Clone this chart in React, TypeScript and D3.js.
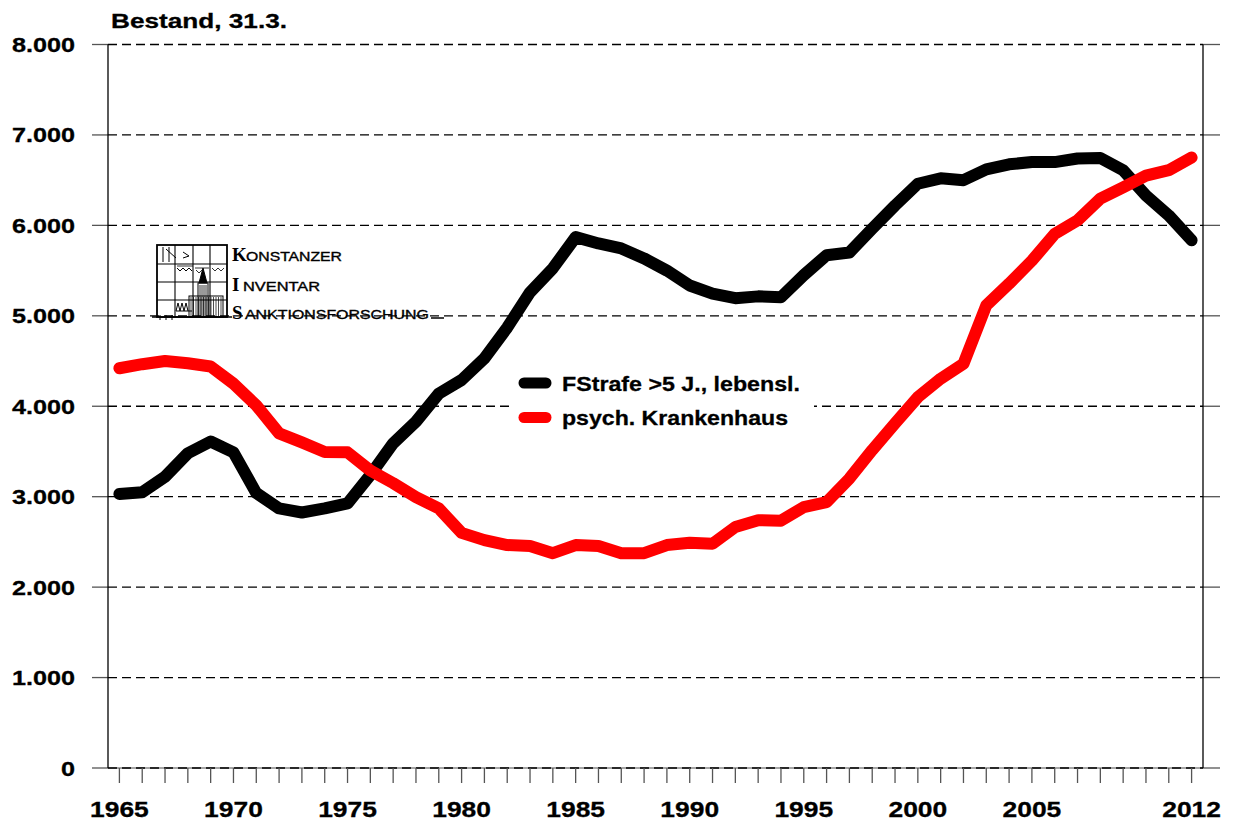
import React from "react";
import * as d3 from "d3";

const years: number[] = d3.range(1965, 2013);
const fstrafe: number[] = [
  3030, 3050, 3220, 3480, 3610, 3490, 3040, 2870, 2825, 2870,
  2925, 3240, 3590, 3830, 4140, 4290, 4530, 4870, 5260, 5525,
  5870, 5800, 5745, 5635, 5500, 5335, 5245, 5195, 5215, 5205,
  5450, 5670, 5700, 5965, 6220, 6460, 6520, 6500, 6620, 6675,
  6700, 6700, 6740, 6745, 6610, 6330, 6110, 5835,
];
const psych: number[] = [
  4420, 4465, 4500, 4475, 4440, 4250, 4010, 3700, 3600, 3495,
  3490, 3290, 3150, 2995, 2870, 2600, 2520, 2465, 2455, 2375,
  2465, 2455, 2375, 2375, 2465, 2490, 2480, 2665, 2740, 2735,
  2885, 2940, 3200, 3515, 3810, 4100, 4305, 4470, 5115, 5355,
  5610, 5905, 6055, 6295, 6420, 6550, 6610, 6750,
];
const yTicks: number[] = [0, 1000, 2000, 3000, 4000, 5000, 6000, 7000, 8000];
const yTickLabels: string[] = ["0", "1.000", "2.000", "3.000", "4.000", "5.000", "6.000", "7.000", "8.000"];
const xLabelYears: number[] = [1965, 1970, 1975, 1980, 1985, 1990, 1995, 2000, 2005, 2012];
const seriesNames: string[] = ["FStrafe >5 J., lebensl.", "psych. Krankenhaus"];
const seriesColors: string[] = ["#000000", "#ff0000"];
const title = "Bestand, 31.3.";

const W = 1235;
const H = 823;
const left = 108;
const right = 1203;
const top = 44.5;
const bottom = 768;

export default function App() {
  const x = d3.scaleLinear().domain([1964.5, 2012.5]).range([left, right]);
  const y = d3.scaleLinear().domain([0, 8000]).range([bottom, top]);
  const line = d3
    .line<number>()
    .x((_, i) => x(years[i]))
    .y((d) => y(d));
  const series = [fstrafe, psych];
  const font = "'Liberation Sans', Arial, sans-serif";

  return (
    <svg
      width={W}
      height={H}
      style={{ position: "absolute", left: 0, top: 0, background: "#fff" }}
      fontFamily={font}
    >
      <rect x={0} y={0} width={W} height={H} fill="#fff" />
      {/* title */}
      <text x={111} y={28} fontSize={21} fontWeight="bold" textLength={176} lengthAdjust="spacingAndGlyphs" stroke="#000" strokeWidth={0.3}>
        {title}
      </text>

      {/* gridlines */}
      {yTicks.map((t) => (
        <g key={t}>
          <line x1={left} x2={right} y1={y(t)} y2={y(t)} stroke={t === 0 ? "#888" : "#000"} strokeWidth={1.3} strokeDasharray={t === 0 ? undefined : "9,5"} />
          {t === 0 && (
            <line x1={left} x2={right} y1={y(t)} y2={y(t)} stroke="#000" strokeWidth={1.3} strokeDasharray="9,5" />
          )}
          <line x1={92} x2={left} y1={y(t)} y2={y(t)} stroke="#555" strokeWidth={1.3} />
          <line x1={right} x2={1220} y1={y(t)} y2={y(t)} stroke="#555" strokeWidth={1.3} />
        </g>
      ))}
      {/* axes */}
      <line x1={left} x2={left} y1={top} y2={bottom} stroke="#000" strokeWidth={1.3} />
      <line x1={right} x2={right} y1={top} y2={bottom} stroke="#000" strokeWidth={1.3} />
      {/* x ticks */}
      {years.map((yr) => (
        <line key={yr} x1={x(yr)} x2={x(yr)} y1={bottom} y2={bottom + 15} stroke="#555" strokeWidth={1.3} />
      ))}
      {/* y labels */}
      {yTicks.map((t, i) => (
        <text
          key={t}
          transform={`translate(75,${y(t) + 7.5}) scale(1.2,1)`}
          textAnchor="end"
          fontSize={21}
          fontWeight="bold"
          stroke="#000"
          strokeWidth={0.3}
        >
          {yTickLabels[i]}
        </text>
      ))}
      {/* x labels */}
      {xLabelYears.map((yr) => (
        <text
          key={yr}
          transform={`translate(${x(yr)},817) scale(1.2,1)`}
          textAnchor="middle"
          fontSize={22}
          fontWeight="bold"
          stroke="#000"
          strokeWidth={0.3}
        >
          {yr}
        </text>
      ))}

      {/* logo */}
      <g stroke="#000" fill="none">
        <rect x={157} y={245} width={70} height={72} strokeWidth={1.8} />
        {[175, 193, 210].map((vx) => (
          <line key={vx} x1={vx} x2={vx} y1={245} y2={317} strokeWidth={1.1} />
        ))}
        {[264, 282, 300].map((hy) => (
          <line key={hy} x1={157} x2={227} y1={hy} y2={hy} strokeWidth={1.1} />
        ))}
        <line x1={152} x2={232} y1={317} y2={317} strokeWidth={1.4} />
        {[160, 166, 172].map((tx) => (
          <line key={tx} x1={tx} x2={tx} y1={315} y2={320} strokeWidth={1} />
        ))}
        {/* top-left pattern */}
        <line x1={163} x2={163} y1={247} y2={262} strokeWidth={1} />
        <line x1={169} x2={169} y1={247} y2={262} strokeWidth={1} />
        <line x1={166} x2={176} y1={249} y2={258} strokeWidth={1} />
        <polyline points="183,252 189,256 183,258" strokeWidth={1} />
        <polyline points="177,268 180,271 183,268 186,271 189,268 192,271" strokeWidth={1} />
        <line x1={177} x2={193} y1={266} y2={266} strokeWidth={0.8} />
        <line x1={195} x2={209} y1={268} y2={268} strokeWidth={0.8} />
        <polyline points="196,270 199,273 202,270" strokeWidth={0.8} />
        <polyline points="212,268 215,271 218,268 221,271 224,268" strokeWidth={0.8} />
        {/* tower */}
        <polygon points="203,268 199,283 207,283" fill="#000" strokeWidth={1} />
        <rect x={198} y={283} width={10} height={34} strokeWidth={1} />
        {d3.range(200, 208, 2).map((tx) => (
          <line key={tx} x1={tx} x2={tx} y1={285} y2={317} strokeWidth={0.8} />
        ))}
        <rect x={189} y={296} width={34} height={21} strokeWidth={1} />
        {d3.range(191, 223, 2.5).map((tx) => (
          <line key={tx} x1={tx} x2={tx} y1={297} y2={317} strokeWidth={0.7} />
        ))}
        <polyline points="176,311 178,303 180,311 182,303 184,311 186,303 188,311" strokeWidth={1} />
        <line x1={176} x2={192} y1={311} y2={311} strokeWidth={1} />
      </g>
      <g fill="#000">
        <text x={232} y={261} fontFamily="'Liberation Serif', serif" fontWeight="bold" fontSize={19}>K</text>
        <text x={246} y={261} fontSize={12.5} textLength={96} lengthAdjust="spacingAndGlyphs" stroke="#000" strokeWidth={0.35}>ONSTANZER</text>
        <text x={232} y={291} fontFamily="'Liberation Serif', serif" fontWeight="bold" fontSize={19}>I</text>
        <text x={243} y={291} fontSize={12.5} textLength={77} lengthAdjust="spacingAndGlyphs" stroke="#000" strokeWidth={0.35}>NVENTAR</text>
        <text x={232} y={319} fontFamily="'Liberation Serif', serif" fontWeight="bold" fontSize={19}>S</text>
        <text x={245} y={319} fontSize={12.5} textLength={184} lengthAdjust="spacingAndGlyphs" stroke="#000" strokeWidth={0.35}>ANKTIONSFORSCHUNG</text>
        <line x1={431} x2={444} y1={318} y2={318} stroke="#000" strokeWidth={1.5} />
      </g>

      {/* legend background */}
      <rect x={514} y={365} width={300} height={70} fill="#fff" />

      {/* series */}
      {series.map((s, i) => (
        <path
          key={i}
          d={line(s) || ""}
          fill="none"
          stroke={seriesColors[i]}
          strokeWidth={12}
          strokeLinejoin="round"
          strokeLinecap="round"
        />
      ))}

      {/* legend */}
      {seriesNames.map((name, i) => {
        const ly = 383 + i * 34.5;
        return (
          <g key={name}>
            <line x1={524} x2={546} y1={ly} y2={ly} stroke={seriesColors[i]} strokeWidth={11} strokeLinecap="round" />
            <text
              x={562}
              y={ly + 7.5}
              fontSize={21}
              fontWeight="bold"
              textLength={i === 0 ? 238 : 226}
              lengthAdjust="spacingAndGlyphs"
              stroke="#000"
              strokeWidth={0.3}
            >
              {name}
            </text>
          </g>
        );
      })}
    </svg>
  );
}
